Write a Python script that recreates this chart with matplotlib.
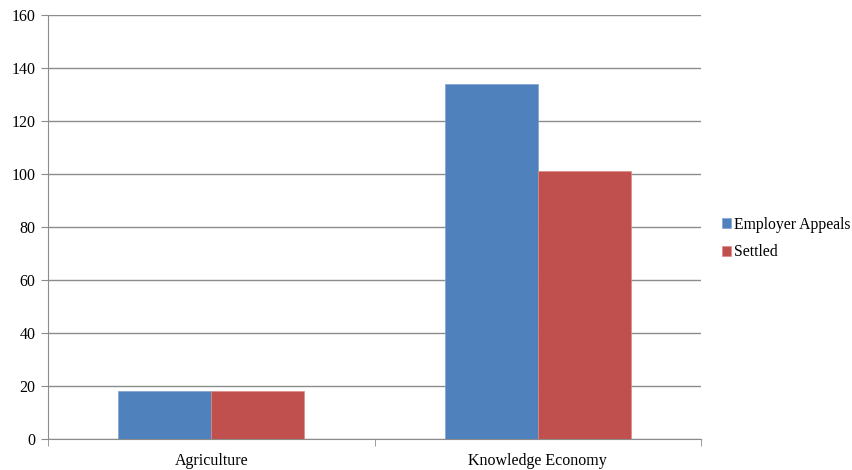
import numpy as np
import matplotlib.pyplot as plt

categories = ["Agriculture", "Knowledge Economy"]
employer_appeals = [18, 134]
settled = [18, 101]
series_names = ["Employer Appeals", "Settled"]

plt.rcParams['font.family'] = ['Liberation Serif', 'DejaVu Serif']

fig = plt.figure(figsize=(8.53, 4.70), dpi=100)
ax = fig.add_axes([48/853, 31/470, 653/853, 424/470])

x = np.arange(len(categories))
w = 0.285
b1 = ax.bar(x - w/2, employer_appeals, w, color='#4F81BD', edgecolor='#7fa3d4', linewidth=0.5, label=series_names[0], zorder=3)
b2 = ax.bar(x + w/2, settled, w, color='#C0504D', edgecolor='#e08a88', linewidth=0.5, label=series_names[1], zorder=3)

ax.set_xlim(-0.5, len(categories) - 0.5)
ax.set_ylim(0, 160)
ax.set_yticks(range(0, 161, 20))
ax.yaxis.grid(True, color='#8c8c8c', linewidth=1)
ax.set_axisbelow(True)

ax.set_xticks(x)
ax.set_xticklabels(categories, fontsize=11.5)
ax.set_xticks(np.arange(-0.5, len(categories), 1.0), minor=True)
ax.tick_params(axis='x', which='major', length=0, pad=10)
ax.tick_params(axis='x', which='minor', length=5, color='#8c8c8c', direction='out')
ax.tick_params(axis='y', length=5, color='#8c8c8c', labelsize=11.5, pad=4)

for s in ['top', 'right']:
    ax.spines[s].set_visible(False)
for s in ['left', 'bottom']:
    ax.spines[s].set_color('#8c8c8c')

ax.legend(handles=[b1, b2], loc='center left', bbox_to_anchor=(1.01, 0.473),
          frameon=False, fontsize=11.3, handlelength=0.6, handleheight=0.6,
          handletextpad=0.2, labelspacing=0.72)

fig.savefig('out.png', dpi=100)
